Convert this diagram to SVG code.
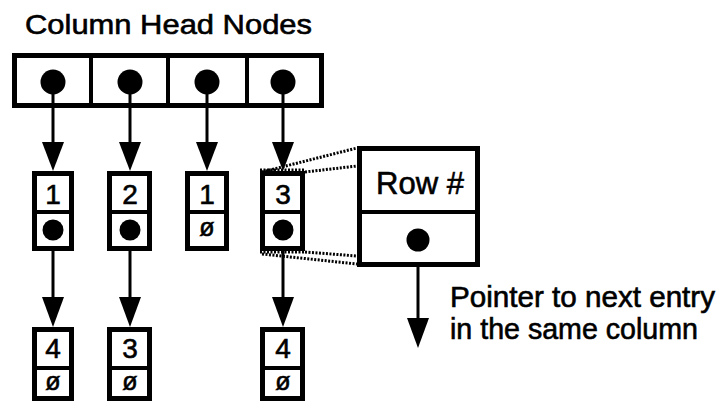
<svg xmlns="http://www.w3.org/2000/svg" width="726" height="405" viewBox="0 0 726 405">
<style>
  .box{fill:#fff;stroke:#000;stroke-width:5}
  .div{stroke:#000;stroke-width:4}
  .dot{fill:#000}
  text{stroke:#000;stroke-width:0.6}
  .num{font-family:"Liberation Sans",Arial,sans-serif;font-size:28px;fill:#000;text-anchor:middle}
  .nul{font-family:"Liberation Sans",Arial,sans-serif;font-size:25px;fill:#000;text-anchor:middle}
  .lbl{font-family:"Liberation Sans",Arial,sans-serif;fill:#000}
  .shaft{stroke:#000;stroke-width:3;fill:none}
  .head{fill:#000}
  .dotted{stroke:#000;stroke-width:3;stroke-dasharray:2 1.5;fill:none}
</style>
<rect width="726" height="405" fill="#fff"/>
<text class="lbl" x="25" y="34" font-size="28" textLength="287" lengthAdjust="spacingAndGlyphs">Column Head Nodes</text>

<g id="head-nodes">
  <rect class="box" x="14.5" y="55.5" width="307" height="50" stroke-width="6"/>
  <line class="div" x1="91" y1="55" x2="91" y2="106" stroke-width="5"/>
  <line class="div" x1="168" y1="55" x2="168" y2="106" stroke-width="5"/>
  <line class="div" x1="247" y1="55" x2="247" y2="106" stroke-width="5"/>
  <circle class="dot" cx="53" cy="82" r="12.5"/>
  <circle class="dot" cx="130" cy="82" r="12.5"/>
  <circle class="dot" cx="207" cy="82" r="12.5"/>
  <circle class="dot" cx="283" cy="82" r="12.5"/>
</g>

<g id="connectors">
  <line class="shaft" x1="53" y1="82" x2="53" y2="145"/>
  <polygon class="head" points="42,142 64,142 53,171"/>
  <line class="shaft" x1="130" y1="82" x2="130" y2="145"/>
  <polygon class="head" points="119,142 141,142 130,171"/>
  <line class="shaft" x1="207" y1="82" x2="207" y2="145"/>
  <polygon class="head" points="196,142 218,142 207,171"/>
  <line class="shaft" x1="283" y1="82" x2="283" y2="145"/>
  <polygon class="head" points="272,142 294,142 283,171"/>

  <line class="shaft" x1="53" y1="230" x2="53" y2="300"/>
  <polygon class="head" points="42,297 64,297 53,327"/>
  <line class="shaft" x1="130" y1="230" x2="130" y2="300"/>
  <polygon class="head" points="119,297 141,297 130,327"/>
  <line class="shaft" x1="283" y1="230" x2="283" y2="300"/>
  <polygon class="head" points="272,297 294,297 283,327"/>

  <line class="dotted" x1="262" y1="172" x2="357" y2="148"/>
  <line class="dotted" x1="305" y1="172" x2="357" y2="166"/>
  <line class="dotted" x1="305" y1="252" x2="357" y2="256"/>
  <line class="dotted" x1="262" y1="254" x2="357" y2="264"/>

  <line class="shaft" x1="418" y1="240" x2="418" y2="320"/>
  <polygon class="head" points="407,318 429,318 418,348"/>
</g>

<g id="n-c1-r1">
  <rect class="box" x="34.5" y="173.5" width="37" height="75"/>
  <line class="div" x1="34" y1="212" x2="72" y2="212"/>
  <text class="num" x="53" y="204">1</text>
  <circle class="dot" cx="53" cy="230" r="10.5"/>
</g>
<g id="n-c2-r1">
  <rect class="box" x="109.5" y="173.5" width="40" height="75"/>
  <line class="div" x1="109" y1="212" x2="150" y2="212"/>
  <text class="num" x="130" y="204">2</text>
  <circle class="dot" cx="130" cy="230" r="10.5"/>
</g>
<g id="n-c3-r1">
  <rect class="box" x="187.5" y="173.5" width="39" height="75"/>
  <line class="div" x1="187" y1="212" x2="227" y2="212"/>
  <text class="num" x="207" y="204">1</text>
  <text class="nul" x="207" y="236">ø</text>
</g>
<g id="n-c4-r1">
  <rect class="box" x="262.5" y="173.5" width="40" height="75"/>
  <line class="dotted" x1="260" y1="170" x2="305" y2="170"/>
  <line class="dotted" x1="260" y1="252" x2="305" y2="252"/>
  <line class="div" x1="262" y1="212" x2="303" y2="212"/>
  <text class="num" x="283" y="204">3</text>
  <circle class="dot" cx="283" cy="230" r="10.5"/>
</g>

<g id="n-c1-r2">
  <rect class="box" x="34.5" y="329.5" width="37" height="69"/>
  <line class="div" x1="34" y1="368" x2="72" y2="368"/>
  <text class="num" x="53" y="358">4</text>
  <text class="nul" x="53" y="390">ø</text>
</g>
<g id="n-c2-r2">
  <rect class="box" x="109.5" y="329.5" width="40" height="69"/>
  <line class="div" x1="109" y1="368" x2="150" y2="368"/>
  <text class="num" x="130" y="358">3</text>
  <text class="nul" x="130" y="390">ø</text>
</g>
<g id="n-c4-r2">
  <rect class="box" x="262.5" y="329.5" width="40" height="69"/>
  <line class="div" x1="262" y1="368" x2="303" y2="368"/>
  <text class="num" x="283" y="358">4</text>
  <text class="nul" x="283" y="390">ø</text>
</g>

<g id="detail-node">
  <rect class="box" x="359.5" y="148.5" width="118" height="116"/>
  <line class="div" x1="359" y1="212" x2="478" y2="212"/>
  <text class="lbl" x="420" y="194" font-size="31" text-anchor="middle">Row #</text>
  <circle class="dot" cx="418" cy="240" r="11.5"/>
</g>

<g id="pointer-label">
  <text class="lbl" x="450" y="307" font-size="29" textLength="265" lengthAdjust="spacingAndGlyphs">Pointer to next entry</text>
  <text class="lbl" x="450" y="339" font-size="29" textLength="248" lengthAdjust="spacingAndGlyphs">in the same column</text>
</g>
</svg>
